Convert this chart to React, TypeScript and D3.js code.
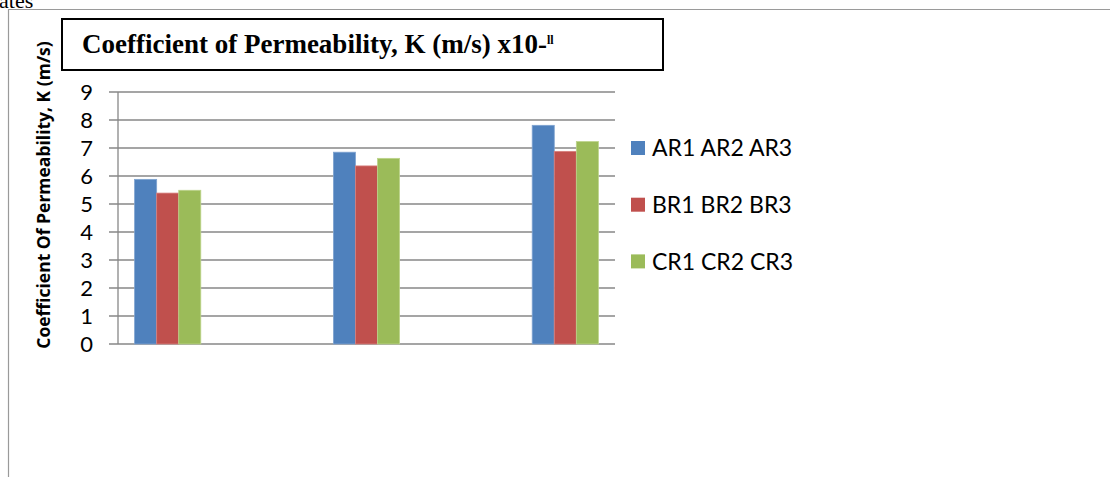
import React from "react";
import * as d3 from "d3";

// Five category slots; the 2nd and 4th are blank rows in the sheet.
const slots = ["S1", "S2", "S3", "S4", "S5"];
const seriesNames = ["AR1 AR2 AR3", "BR1 BR2 BR3", "CR1 CR2 CR3"];
const seriesA: (number | null)[] = [5.88, null, 6.85, null, 7.81];
const seriesB: (number | null)[] = [5.39, null, 6.36, null, 6.88];
const seriesC: (number | null)[] = [5.49, null, 6.63, null, 7.23];
const seriesColors = ["#4F81BD", "#C0504D", "#9BBB59"];
const seriesStroke = ["#7FA3D0", "#D8807E", "#BCD48A"];
const yTicks = [0, 1, 2, 3, 4, 5, 6, 7, 8, 9];

const W = 1110;
const H = 477;
const plot = { left: 118, right: 615, top: 92, bottom: 344 };

export default function App() {
  const x = d3
    .scaleBand<string>()
    .domain(slots)
    .range([plot.left, plot.right])
    .paddingInner(0)
    .paddingOuter(0);
  const y = d3.scaleLinear().domain([0, 9]).range([plot.bottom, plot.top]);

  const series = [seriesA, seriesB, seriesC];
  const barW = x.bandwidth() * 0.222;

  const sans = "Lato, 'Open Sans', sans-serif";

  return (
    <svg
      width={W}
      height={H}
      style={{ position: "absolute", left: 0, top: 0, background: "#fff" }}
    >
      {/* clipped page text above the figure */}
      <text x={-1} y={8} fontFamily="'Liberation Serif', serif" fontSize={22} fill="#000">
        ates
      </text>

      {/* outer frame */}
      <path d={`M8.5,${H + 2} V9.5 H${W + 2}`} fill="none" stroke="#9a9a9a" strokeWidth={1.2} />

      {/* title box */}
      <rect x={62} y={19} width={601} height={51} fill="#fff" stroke="#000" strokeWidth={2} />
      <text x={82} y={53} fontFamily="'Liberation Serif', serif" fontWeight="bold" fontSize={27} fill="#000">
        Coefficient of Permeability, K (m/s) x10-
        <tspan fontSize={12} dy={-9}>ll</tspan>
      </text>

      {/* gridlines and y ticks */}
      {yTicks.map((t) => (
        <g key={t}>
          <line
            x1={plot.left - 9}
            x2={plot.right}
            y1={y(t)}
            y2={y(t)}
            stroke="#878787"
            strokeWidth={1.3}
          />
          <text
            x={93}
            y={y(t)}
            dy="0.36em"
            textAnchor="end"
            fontFamily={sans}
            fontSize={22}
            fill="#000"
          >
            {t}
          </text>
        </g>
      ))}
      <line x1={plot.left} x2={plot.left} y1={plot.top} y2={plot.bottom} stroke="#878787" strokeWidth={1.3} />

      {/* bars */}
      {slots.map((s, i) => {
        const cx = (x(s) as number) + x.bandwidth() / 2;
        return series.map((vals, k) => {
          const v = vals[i];
          if (v == null) return null;
          const bx = cx - 1.5 * barW + k * barW;
          return (
            <rect
              key={s + k}
              x={bx}
              y={y(v)}
              width={barW}
              height={y(0) - y(v)}
              fill={seriesColors[k]}
              stroke={seriesStroke[k]}
              strokeWidth={0.8}
            />
          );
        });
      })}

      {/* y axis title */}
      <text
        transform={`translate(44,${(38 + 352) / 2}) rotate(-90)`}
        textAnchor="middle"
        dy="0.35em"
        fontFamily="'Open Sans', sans-serif"
        fontWeight="bold"
        fontSize={17.5}
        fill="#000"
      >
        Coefficient Of Permeability, K (m/s)
      </text>

      {/* legend */}
      {seriesNames.map((name, k) => {
        const cy = 148 + k * 56.7;
        return (
          <g key={name}>
            <rect x={631} y={cy - 7} width={14} height={14} fill={seriesColors[k]} />
            <text x={652} y={cy} dy="0.36em" fontFamily={sans} fontSize={23} fill="#000">
              {name}
            </text>
          </g>
        );
      })}
    </svg>
  );
}
